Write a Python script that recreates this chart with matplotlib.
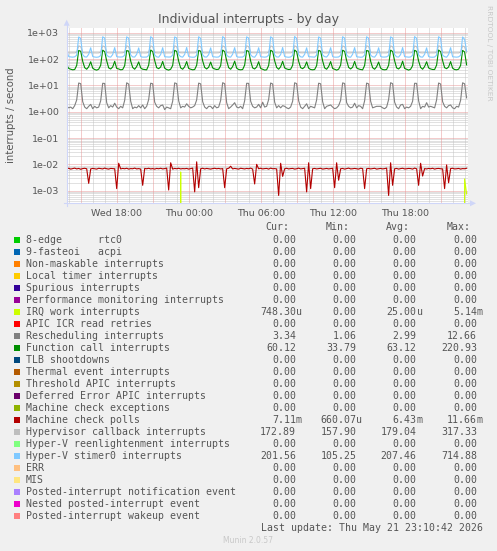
import numpy as np
import pandas as pd
import matplotlib
matplotlib.use("Agg")
import matplotlib.pyplot as plt
import matplotlib.dates as mdates
from matplotlib.ticker import LogLocator, FuncFormatter, NullFormatter, FixedLocator
from matplotlib.patches import Rectangle, Polygon
from matplotlib.lines import Line2D

# ---------------- data ----------------
times = pd.date_range("2026-05-20 13:50", periods=201, freq="10min")

stimer0 = [
    205, 124, 120, 118, 121, 140, 690, 600, 145, 121, 119, 152,
    268, 125, 119, 117, 120, 136, 700, 620, 140, 122, 118, 148,
    272, 123, 120, 119, 121, 139, 695, 615, 143, 120, 119, 151,
    265, 124, 118, 118, 119, 137, 705, 610, 141, 121, 117, 149,
    270, 122, 120, 119, 120, 140, 690, 625, 146, 123, 118, 150,
    275, 125, 119, 117, 118, 138, 700, 605, 142, 120, 119, 147,
    266, 123, 121, 118, 120, 141, 710, 615, 139, 121, 118, 153,
    271, 124, 118, 119, 119, 136, 695, 620, 144, 122, 117, 150,
    269, 122, 120, 118, 121, 139, 700, 610, 140, 120, 119, 148,
    274, 125, 119, 117, 120, 137, 715, 600, 145, 121, 118, 151,
    267, 123, 121, 119, 118, 140, 690, 620, 141, 123, 119, 149,
    270, 124, 118, 118, 120, 138, 705, 615, 143, 120, 117, 152,
    272, 122, 120, 117, 119, 141, 700, 610, 140, 122, 118, 150,
    268, 125, 119, 119, 121, 136, 695, 625, 146, 121, 119, 148,
    273, 123, 120, 118, 120, 139, 710, 605, 142, 120, 118, 151,
    266, 124, 118, 117, 119, 140, 700, 615, 139, 123, 117, 149,
    270, 122, 120, 118, 121, 138, 690, 560, 200,
]

function_call = [
    60, 44, 41, 39, 40, 57, 212, 198, 82, 47, 41, 51,
    79, 45, 40, 38, 41, 58, 218, 190, 86, 46, 42, 50,
    82, 44, 42, 39, 40, 56, 210, 200, 84, 48, 41, 52,
    78, 46, 41, 40, 39, 59, 220, 193, 88, 47, 43, 50,
    81, 45, 40, 38, 41, 57, 215, 196, 83, 46, 41, 51,
    80, 44, 41, 39, 40, 58, 213, 199, 85, 48, 42, 49,
    77, 46, 42, 40, 41, 56, 219, 192, 87, 47, 41, 52,
    83, 45, 40, 39, 40, 59, 211, 197, 84, 46, 42, 50,
    79, 44, 41, 38, 39, 57, 216, 194, 86, 48, 41, 51,
    82, 46, 42, 40, 41, 58, 221, 190, 82, 47, 43, 50,
    78, 45, 40, 39, 40, 56, 214, 198, 85, 46, 41, 52,
    80, 44, 41, 38, 41, 59, 217, 195, 88, 48, 42, 49,
    81, 46, 42, 40, 39, 57, 212, 200, 83, 47, 41, 51,
    77, 45, 40, 39, 40, 58, 218, 193, 86, 46, 42, 50,
    83, 44, 41, 38, 41, 56, 215, 196, 84, 48, 41, 52,
    79, 46, 42, 40, 40, 59, 220, 191, 87, 47, 43, 50,
    80, 45, 40, 39, 41, 57, 213, 185, 60,
]

rescheduling = [
    1.6, 1.4, 1.5, 1.3, 1.7, 2.8, 12.3, 11.6, 2.4, 1.5, 1.3, 1.6,
    1.9, 1.3, 1.6, 1.4, 1.5, 2.6, 12.0, 11.8, 2.2, 1.4, 1.7, 1.5,
    2.1, 1.5, 1.3, 1.6, 1.4, 2.7, 12.5, 11.2, 2.5, 1.3, 1.5, 1.4,
    1.7, 1.4, 1.8, 1.3, 1.6, 2.9, 12.1, 11.5, 2.3, 1.6, 1.4, 1.7,
    1.8, 1.2, 1.5, 1.4, 1.3, 2.5, 12.4, 11.7, 2.6, 1.4, 1.6, 1.5,
    2.0, 1.6, 1.4, 1.5, 1.7, 2.8, 12.2, 11.4, 2.4, 1.5, 1.3, 1.6,
    1.6, 1.3, 1.7, 1.4, 1.5, 2.7, 12.6, 11.6, 2.2, 1.3, 1.5, 1.8,
    2.2, 1.5, 1.4, 1.6, 1.3, 2.6, 12.0, 11.9, 2.5, 1.6, 1.4, 1.5,
    1.9, 1.4, 2.3, 1.5, 1.6, 2.9, 12.3, 11.3, 2.3, 1.4, 1.7, 1.4,
    1.7, 1.6, 1.4, 1.3, 1.5, 2.5, 12.5, 11.7, 2.6, 1.5, 1.3, 1.6,
    2.0, 1.3, 1.6, 1.5, 1.4, 2.8, 12.1, 11.5, 2.4, 1.3, 1.6, 1.7,
    1.8, 1.5, 1.3, 1.4, 1.7, 2.7, 12.4, 11.8, 2.2, 1.6, 1.4, 1.5,
    2.1, 1.4, 1.7, 1.6, 1.3, 2.6, 12.2, 11.4, 2.5, 1.4, 1.5, 1.6,
    1.6, 1.6, 1.4, 1.3, 1.5, 2.9, 12.6, 11.6, 2.3, 1.5, 1.3, 1.8,
    1.9, 1.3, 1.5, 1.4, 1.6, 2.5, 12.0, 11.9, 2.6, 1.3, 1.6, 1.5,
    2.2, 1.5, 1.6, 1.5, 1.4, 2.8, 12.3, 11.3, 2.4, 1.6, 1.4, 1.7,
    1.8, 1.4, 1.3, 1.6, 1.5, 2.7, 12.5, 11.5, 3.34,
]

hypervisor = [
    176, 172, 171, 172, 171, 182, 315, 295, 180, 173, 172, 175,
    175, 171, 172, 171, 172, 181, 312, 298, 179, 172, 171, 174,
    177, 172, 171, 172, 173, 183, 317, 292, 181, 173, 172, 175,
    176, 171, 172, 171, 172, 180, 314, 296, 178, 172, 171, 174,
    175, 173, 171, 172, 171, 182, 316, 294, 180, 173, 172, 176,
    177, 172, 172, 171, 172, 181, 313, 297, 179, 171, 172, 174,
    176, 171, 171, 172, 173, 183, 315, 293, 181, 172, 171, 175,
    175, 172, 172, 171, 172, 180, 317, 295, 178, 173, 172, 174,
    177, 173, 171, 172, 171, 182, 312, 298, 180, 172, 171, 176,
    176, 172, 172, 171, 172, 181, 316, 292, 179, 173, 172, 175,
    175, 171, 171, 172, 173, 183, 314, 296, 181, 172, 171, 174,
    177, 172, 172, 171, 172, 180, 313, 294, 178, 171, 172, 175,
    176, 173, 171, 172, 171, 182, 317, 297, 180, 173, 171, 176,
    175, 172, 172, 171, 172, 181, 315, 293, 179, 172, 172, 174,
    177, 171, 171, 172, 173, 183, 312, 295, 181, 173, 171, 175,
    176, 172, 172, 171, 172, 180, 316, 298, 178, 172, 172, 174,
    175, 172, 171, 172, 171, 182, 314, 290, 172.89,
]

mc_polls = [
    .0068, .0071, .0066, .0069, .0072, .0067, .0070, .0065, .0069, .0071, .0068, .0019,
    .0067, .0070, .0068, .0066, .0071, .0069, .0067, .0072, .0068, .0066, .0070, .0069,
    .0068, .0012, .0110, .0067, .0070, .0068, .0071, .0066, .0069, .0068, .0072, .0067,
    .0069, .0066, .0016, .0070, .0068, .0071, .0067, .0069, .0066, .0070, .0068, .0071,
    .0067, .0069, .0072, .00106, .0115, .0066, .0070, .0068, .0071, .0067, .0069, .0068,
    .0070, .0066, .0069, .0072, .0009, .0125, .0013, .0068, .0071, .0067, .0070, .0068,
    .0066, .0069, .0071, .0068, .0070, .0067, .0069, .0013, .0068, .0071, .0085, .0067,
    .0070, .0068, .0066, .0071, .0069, .0067, .0070, .0068, .0072, .0066, .0018, .0100,
    .0068, .0071, .0067, .0069, .0070, .0066, .0072, .0068, .0069, .0067, .00066, .0110,
    .0035, .0068, .0071, .0067, .0069, .0070, .0066, .0068, .0072, .0067, .0069, .0071,
    .0009, .0115, .0012, .0068, .0070, .0067, .0069, .0071, .0066, .0068, .0070, .0067,
    .0069, .0071, .0013, .0115, .0025, .0068, .0070, .0066, .0069, .0072, .0067, .0068,
    .0070, .0068, .0066, .0071, .0069, .0012, .0068, .0070, .0067, .0069, .0071, .0066,
    .0068, .0070, .0067, .0069, .0072, .00066, .0115, .0016, .0068, .0070, .0066, .0069,
    .0071, .0067, .0068, .0070, .0069, .0066, .0072, .0068, .0016, .0110, .0036, .0069,
    .0067, .0070, .0068, .0071, .0066, .0069, .0070, .0068, .0067, .0012, .0095, .0020,
    .0069, .0071, .0067, .0068, .0070, .0066, .0069, .0068, .00711,
]

irq_work = [0.0] * 201
irq_work[57] = 0.00514
irq_work[199] = 0.0028
irq_work[200] = 0.00075

y_ticks = [1e-3, 1e-2, 1e-1, 1e0, 1e1, 1e2, 1e3]

legend_labels = [
    "8-edge      rtc0", "9-fasteoi   acpi", "Non-maskable interrupts",
    "Local timer interrupts", "Spurious interrupts",
    "Performance monitoring interrupts", "IRQ work interrupts",
    "APIC ICR read retries", "Rescheduling interrupts",
    "Function call interrupts", "TLB shootdowns", "Thermal event interrupts",
    "Threshold APIC interrupts", "Deferred Error APIC interrupts",
    "Machine check exceptions", "Machine check polls",
    "Hypervisor callback interrupts", "Hyper-V reenlightenment interrupts",
    "Hyper-V stimer0 interrupts", "ERR", "MIS",
    "Posted-interrupt notification event", "Nested posted-interrupt event",
    "Posted-interrupt wakeup event",
]
legend_colors = [
    "#00CC00", "#0066B3", "#FF8000", "#FFCC00", "#330099", "#990099",
    "#CCFF00", "#FF0000", "#808080", "#008F00", "#00487D", "#B35A00",
    "#B38F00", "#6B006B", "#8FB300", "#B30000", "#BEBEBE", "#80FF80",
    "#80C9FF", "#FFC080", "#FFE680", "#AA80FF", "#EE00CC", "#FF8080",
]
z = "0.00"
cur_vals = [z, z, z, z, z, z, "748.30u", z, "3.34", "60.12", z, z, z, z, z,
            "7.11m", "172.89", z, "201.56", z, z, z, z, z]
min_vals = [z, z, z, z, z, z, z, z, "1.06", "33.79", z, z, z, z, z,
            "660.07u", "157.90", z, "105.25", z, z, z, z, z]
avg_vals = [z, z, z, z, z, z, "25.00u", z, "2.99", "63.12", z, z, z, z, z,
            "6.43m", "179.04", z, "207.46", z, z, z, z, z]
max_vals = [z, z, z, z, z, z, "5.14m", z, "12.66", "220.93", z, z, z, z, z,
            "11.66m", "317.33", z, "714.88", z, z, z, z, z]
col_headers = ["Cur:", "Min:", "Avg:", "Max:"]

# ---------------- figure ----------------
W, H = 497, 551
fig = plt.figure(figsize=(W / 100, H / 100), dpi=100, facecolor="#F0F0F0")


def fx(px):
    return px / W


def fy(py):
    return 1 - py / H


TXT = "#555555"
L, R, T, B = 66.7, 468.0, 27.7, 203.3
ax = fig.add_axes([fx(L), fy(B), fx(R) - fx(L), fy(T) - fy(B)])
ax.set_facecolor("white")
for s in ax.spines.values():
    s.set_visible(False)

ax.set_yscale("log", nonpositive="clip")
ax.set_ylim(10 ** -3.479, 10 ** 3.19)
t_start = np.datetime64("2026-05-20T13:50")
t_end = np.datetime64("2026-05-21T23:17")
ax.set_xlim(t_start, t_end)

ax.yaxis.set_major_locator(FixedLocator(y_ticks))
minor_y = [m * d for d in y_ticks[:-1] for m in range(2, 10)] + [1e-4 * m for m in range(4, 10)] + [2e3]
minor_y = [v for v in minor_y if 10 ** -3.479 <= v <= 10 ** 3.19]
ax.yaxis.set_minor_locator(FixedLocator(minor_y))
ax.yaxis.set_major_formatter(FuncFormatter(lambda v, p: f"{v:.0e}"))
ax.yaxis.set_minor_formatter(NullFormatter())

ax.xaxis.set_major_locator(mdates.HourLocator(byhour=[0, 6, 12, 18]))
ax.xaxis.set_major_formatter(mdates.DateFormatter("%a %H:%M"))
ax.xaxis.set_minor_locator(mdates.HourLocator())
ax.xaxis.set_minor_formatter(NullFormatter())

ax.tick_params(which="both", length=0, colors=TXT, labelsize=6.8)
ax.tick_params(axis="y", pad=5.3)
ax.tick_params(axis="x", pad=4.2)

GRID = "#c4c4c4"
MGRID = "#e89a9a"
dot = (0, (1, 1))
ax.set_axisbelow(True)
ax.grid(True, which="minor", axis="y", color=GRID, lw=0.72, ls=dot)
ax.grid(True, which="major", axis="y", color=MGRID, lw=0.72, ls=dot)
for h in pd.date_range("2026-05-20 14:00", "2026-05-21 23:00", freq="1h"):
    if h.hour % 3 == 0:
        ax.axvline(h, color=MGRID, lw=0.72, ls=dot, zorder=0.6)
    else:
        ax.axvline(h, color=GRID, lw=0.72, ls=dot, zorder=0.5)

lw = 0.8
ax.plot(times, irq_work, color="#CCFF00", lw=lw)
ax.plot(times, rescheduling, color="#808080", lw=lw)
ax.plot(times, function_call, color="#008F00", lw=lw)
ax.plot(times, mc_polls, color="#B30000", lw=lw)
ax.plot(times, hypervisor, color="#BEBEBE", lw=lw)
ax.plot(times, stimer0, color="#80C9FF", lw=lw)

# axes lines + arrows
AX = "#CFD6F8"
fig.add_artist(Line2D([fx(L), fx(L)], [fy(B + 3), fy(T - 3)], color=AX, lw=0.8))
fig.add_artist(Line2D([fx(L - 3), fx(R + 3)], [fy(B), fy(B)], color=AX, lw=0.8))
fig.add_artist(Polygon([[fx(L - 3), fy(T - 2)], [fx(L + 3), fy(T - 2)], [fx(L), fy(T - 8)]],
                       closed=True, color=AX, lw=0))
fig.add_artist(Polygon([[fx(R + 2), fy(B - 3)], [fx(R + 2), fy(B + 3)], [fx(R + 8), fy(B)]],
                       closed=True, color=AX, lw=0))

# title & side texts
fig.text(fx(248.5), fy(19), "Individual interrupts - by day", ha="center", va="center",
         fontsize=9, color=TXT)
fig.text(fx(11), fy(115), "interrupts / second", rotation=90, ha="center", va="center",
         fontsize=7.3, color=TXT)
fig.text(fx(488.5), fy(5), "RRDTOOL / TOBI OETIKER", rotation=270, ha="center", va="top",
         fontsize=5.4, color="#c8c8c8")

# legend
MONO = "DejaVu Sans Mono"
FS = 7.1
col_right = [296.0, 356.3, 416.6, 476.9]
for j, hdr in enumerate(col_headers):
    fig.text(fx(col_right[j] - 6.5), fy(227.5), hdr, ha="right", va="center",
             fontsize=FS, family=MONO, color=TXT)

cols = [cur_vals, min_vals, avg_vals, max_vals]
for i, lab in enumerate(legend_labels):
    y = 240 + 12 * i
    fig.add_artist(Rectangle((fx(14), fy(y + 3)), fx(6), 6 / H, color=legend_colors[i], lw=0))
    fig.text(fx(26), fy(y), lab, ha="left", va="center", fontsize=FS, family=MONO, color=TXT)
    for j, col in enumerate(cols):
        v = col[i]
        num, suf = (v[:-1], v[-1]) if v[-1] in "um" else (v, "")
        fig.text(fx(col_right[j]), fy(y), num, ha="right", va="center",
                 fontsize=FS, family=MONO, color=TXT)
        if suf:
            fig.text(fx(col_right[j]), fy(y), suf, ha="left", va="center",
                     fontsize=FS, family=MONO, color=TXT)

fig.text(fx(483), fy(528), "Last update: Thu May 21 23:10:42 2026", ha="right", va="center",
         fontsize=FS, family=MONO, color=TXT)
fig.text(fx(248), fy(540.5), "Munin 2.0.57", ha="center", va="center",
         fontsize=5.5, color="#c8c8c8")

fig.savefig("out.png", dpi=100, facecolor=fig.get_facecolor())
